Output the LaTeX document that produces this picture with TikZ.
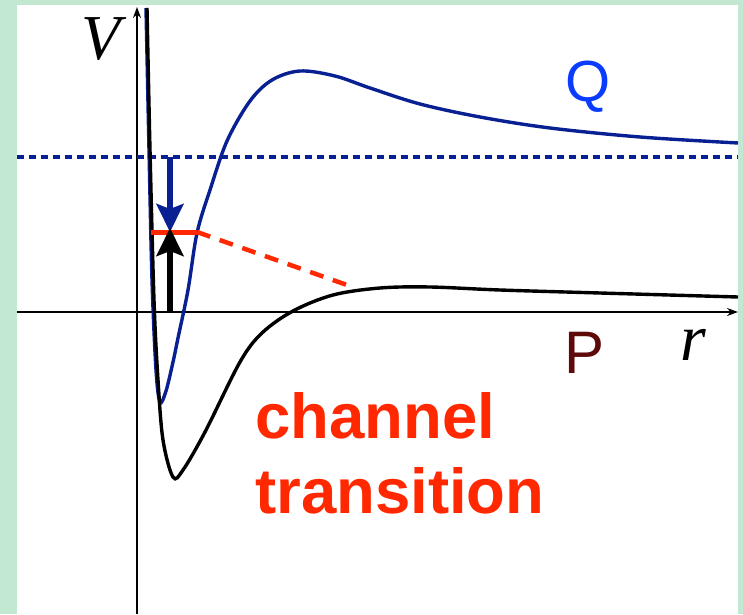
\documentclass[tikz,border=0pt]{standalone}
\usepackage{fontspec}
\setmainfont{Liberation Serif}
\setsansfont{Liberation Sans}
\usetikzlibrary{arrows.meta}
\definecolor{navy}{RGB}{8,32,145}
\definecolor{tred}{RGB}{255,40,0}
\definecolor{qblue}{RGB}{10,60,255}
\definecolor{pbrown}{RGB}{95,10,10}
\definecolor{mint}{RGB}{194,232,210}

\begin{document}
\begin{tikzpicture}[x=1pt,y=-1pt,
    axis/.style={line width=1.8pt,-{Stealth[length=11pt,width=8pt]}},
    curve/.style={line width=3.4pt,smooth,tension=0.55},
    jump/.style={line width=5.5pt,-{Stealth[length=28pt,width=27pt,inset=5pt]}},
    lbl/.style={inner sep=0pt,anchor=base}]
  % frame
  \fill[mint] (0,0) rectangle (743,614);
  \fill[white] (17,5) rectangle (738,614);
  % axes
  \draw[axis] (137,614) -- (137,7);
  \draw[axis] (17,312) -- (738,312);
  \node[lbl,font=\fontsize{64}{64}\selectfont\itshape] (V) at (101,60) {V};
  \node[lbl,font=\fontsize{66}{66}\selectfont\itshape] (r) at (693,360) {r};
  % threshold of Q
  \draw[navy,line width=3.5pt,dash pattern=on 7pt off 5pt] (17,157) -- (738,157);
  % potential Q
  \draw[navy,curve] plot coordinates {(146,8) (149,150) (152,280) (156,370) (160,402)
    (166,391) (173,362) (178,338) (188,290) (197,233) (210,190) (227,141) (250,101)
    (272,80) (300,71) (335,76) (370,88) (420,104) (480,117) (550,128) (640,137) (738,143)};
  % potential P
  \draw[curve] plot coordinates {(147,8) (150,150) (154,300) (158,380) (163,440)
    (173,477) (183,470) (205,432) (240,362) (262,333) (293,311) (333,295) (380,288)
    (430,287) (500,290) (600,293) (738,297)};
  \node[lbl,font=\fontsize{58}{58}\selectfont\sffamily,text=qblue] (Q) at (588,102) {Q};
  \node[lbl,font=\fontsize{60}{60}\selectfont\sffamily,text=pbrown] (P) at (584,373) {P};
  % bound level and decay
  \coordinate (top) at (170,157);
  \coordinate (lev) at (170,232);
  \coordinate (bot) at (170,311);
  \draw[tred,line width=5pt] (151,232) -- (197,232) coordinate (end);
  \draw[tred,line width=4.5pt,dash pattern=on 14pt off 10pt] (end) -- (347,285);
  \draw[navy,jump] (top) -- (lev);
  \draw[jump] (bot) -- ([yshift=4pt]lev);
  \node[anchor=base west,align=left,inner sep=0pt,text=tred,
    font=\fontsize{63.5}{75}\selectfont\sffamily\bfseries] (chan) at (255,513)
    {channel\\transition};
\end{tikzpicture}
\end{document}
